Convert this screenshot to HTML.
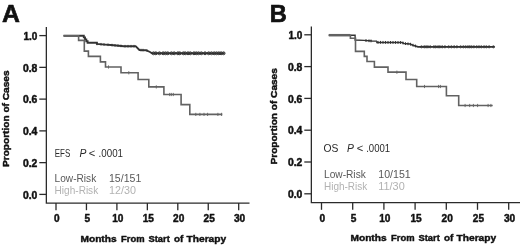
<!DOCTYPE html>
<html><head><meta charset="utf-8"><title>Figure</title>
<style>
html,body{margin:0;padding:0;background:#fff;}
svg{display:block}
text{font-family:"Liberation Sans",sans-serif;}
.b{font-weight:bold;fill:#111;stroke:#111;stroke-width:0.45px;stroke-linejoin:round}
</style></head><body>
<svg width="520" height="245" viewBox="0 0 520 245">
<rect width="520" height="245" fill="#fff"/>
<path d="M46.35 26.9V203.1H249.5" fill="none" stroke="#2b2b2b" stroke-width="1.3"/>
<path d="M39.3 194.40H46.35" stroke="#2b2b2b" stroke-width="1.3"/>
<text x="37.3" y="198.60" text-anchor="end" class="b" font-size="10" textLength="14.4" lengthAdjust="spacingAndGlyphs">0.0</text>
<path d="M39.3 162.64H46.35" stroke="#2b2b2b" stroke-width="1.3"/>
<text x="37.3" y="166.84" text-anchor="end" class="b" font-size="10" textLength="14.4" lengthAdjust="spacingAndGlyphs">0.2</text>
<path d="M39.3 130.88H46.35" stroke="#2b2b2b" stroke-width="1.3"/>
<text x="37.3" y="135.08" text-anchor="end" class="b" font-size="10" textLength="14.4" lengthAdjust="spacingAndGlyphs">0.4</text>
<path d="M39.3 99.12H46.35" stroke="#2b2b2b" stroke-width="1.3"/>
<text x="37.3" y="103.32" text-anchor="end" class="b" font-size="10" textLength="14.4" lengthAdjust="spacingAndGlyphs">0.6</text>
<path d="M39.3 67.36H46.35" stroke="#2b2b2b" stroke-width="1.3"/>
<text x="37.3" y="71.56" text-anchor="end" class="b" font-size="10" textLength="14.4" lengthAdjust="spacingAndGlyphs">0.8</text>
<path d="M39.3 35.60H46.35" stroke="#2b2b2b" stroke-width="1.3"/>
<text x="37.3" y="39.80" text-anchor="end" class="b" font-size="10">1.0</text>
<path d="M56.00 203.1V210.2" stroke="#2b2b2b" stroke-width="1.3"/>
<text x="56.90" y="222.4" text-anchor="middle" class="b" font-size="10.1">0</text>
<path d="M86.45 203.1V210.2" stroke="#2b2b2b" stroke-width="1.3"/>
<text x="87.35" y="222.4" text-anchor="middle" class="b" font-size="10.1">5</text>
<path d="M116.90 203.1V210.2" stroke="#2b2b2b" stroke-width="1.3"/>
<text x="117.80" y="222.4" text-anchor="middle" class="b" font-size="10.1">10</text>
<path d="M147.35 203.1V210.2" stroke="#2b2b2b" stroke-width="1.3"/>
<text x="148.25" y="222.4" text-anchor="middle" class="b" font-size="10.1">15</text>
<path d="M177.80 203.1V210.2" stroke="#2b2b2b" stroke-width="1.3"/>
<text x="178.70" y="222.4" text-anchor="middle" class="b" font-size="10.1">20</text>
<path d="M208.25 203.1V210.2" stroke="#2b2b2b" stroke-width="1.3"/>
<text x="209.15" y="222.4" text-anchor="middle" class="b" font-size="10.1">25</text>
<path d="M238.70 203.1V210.2" stroke="#2b2b2b" stroke-width="1.3"/>
<text x="239.60" y="222.4" text-anchor="middle" class="b" font-size="10.1">30</text>
<text x="80.50" y="242.4" class="b" font-size="9.9" textLength="36.1" lengthAdjust="spacingAndGlyphs">Months</text>
<text x="121.10" y="242.4" class="b" font-size="9.9" textLength="23.5" lengthAdjust="spacingAndGlyphs">From</text>
<text x="148.50" y="242.4" class="b" font-size="9.9" textLength="21.3" lengthAdjust="spacingAndGlyphs">Start</text>
<text x="173.90" y="242.4" class="b" font-size="9.9" textLength="9.3" lengthAdjust="spacingAndGlyphs">of</text>
<text x="186.50" y="242.4" class="b" font-size="9.9" textLength="39.7" lengthAdjust="spacingAndGlyphs">Therapy</text>
<text transform="translate(9.1 167.0) rotate(-90)" class="b" font-size="9.4" textLength="96.5" lengthAdjust="spacingAndGlyphs">Proportion of Cases</text>
<text x="1.9" y="22.3" class="b" font-size="24.8" style="stroke-width:0.7px">A</text>
<path d="M311.35 26.5V202.7H520" fill="none" stroke="#2b2b2b" stroke-width="1.3"/>
<path d="M304.3 193.80H311.35" stroke="#2b2b2b" stroke-width="1.3"/>
<text x="302.3" y="198.00" text-anchor="end" class="b" font-size="10" textLength="14.4" lengthAdjust="spacingAndGlyphs">0.0</text>
<path d="M304.3 162.00H311.35" stroke="#2b2b2b" stroke-width="1.3"/>
<text x="302.3" y="166.20" text-anchor="end" class="b" font-size="10" textLength="14.4" lengthAdjust="spacingAndGlyphs">0.2</text>
<path d="M304.3 130.20H311.35" stroke="#2b2b2b" stroke-width="1.3"/>
<text x="302.3" y="134.40" text-anchor="end" class="b" font-size="10" textLength="14.4" lengthAdjust="spacingAndGlyphs">0.4</text>
<path d="M304.3 98.40H311.35" stroke="#2b2b2b" stroke-width="1.3"/>
<text x="302.3" y="102.60" text-anchor="end" class="b" font-size="10" textLength="14.4" lengthAdjust="spacingAndGlyphs">0.6</text>
<path d="M304.3 66.60H311.35" stroke="#2b2b2b" stroke-width="1.3"/>
<text x="302.3" y="70.80" text-anchor="end" class="b" font-size="10" textLength="14.4" lengthAdjust="spacingAndGlyphs">0.8</text>
<path d="M304.3 34.80H311.35" stroke="#2b2b2b" stroke-width="1.3"/>
<text x="302.3" y="39.00" text-anchor="end" class="b" font-size="10">1.0</text>
<path d="M321.50 202.7V209.79999999999998" stroke="#2b2b2b" stroke-width="1.3"/>
<text x="322.40" y="222.0" text-anchor="middle" class="b" font-size="10.1">0</text>
<path d="M352.70 202.7V209.79999999999998" stroke="#2b2b2b" stroke-width="1.3"/>
<text x="353.60" y="222.0" text-anchor="middle" class="b" font-size="10.1">5</text>
<path d="M383.90 202.7V209.79999999999998" stroke="#2b2b2b" stroke-width="1.3"/>
<text x="384.80" y="222.0" text-anchor="middle" class="b" font-size="10.1">10</text>
<path d="M415.10 202.7V209.79999999999998" stroke="#2b2b2b" stroke-width="1.3"/>
<text x="416.00" y="222.0" text-anchor="middle" class="b" font-size="10.1">15</text>
<path d="M446.30 202.7V209.79999999999998" stroke="#2b2b2b" stroke-width="1.3"/>
<text x="447.20" y="222.0" text-anchor="middle" class="b" font-size="10.1">20</text>
<path d="M477.50 202.7V209.79999999999998" stroke="#2b2b2b" stroke-width="1.3"/>
<text x="478.40" y="222.0" text-anchor="middle" class="b" font-size="10.1">25</text>
<path d="M508.70 202.7V209.79999999999998" stroke="#2b2b2b" stroke-width="1.3"/>
<text x="509.60" y="222.0" text-anchor="middle" class="b" font-size="10.1">30</text>
<text x="350.50" y="241.4" class="b" font-size="9.9" textLength="36.1" lengthAdjust="spacingAndGlyphs">Months</text>
<text x="391.10" y="241.4" class="b" font-size="9.9" textLength="23.5" lengthAdjust="spacingAndGlyphs">From</text>
<text x="418.50" y="241.4" class="b" font-size="9.9" textLength="21.3" lengthAdjust="spacingAndGlyphs">Start</text>
<text x="443.90" y="241.4" class="b" font-size="9.9" textLength="9.3" lengthAdjust="spacingAndGlyphs">of</text>
<text x="456.50" y="241.4" class="b" font-size="9.9" textLength="39.7" lengthAdjust="spacingAndGlyphs">Therapy</text>
<text transform="translate(277.4 164.5) rotate(-90)" class="b" font-size="9.4" textLength="96.3" lengthAdjust="spacingAndGlyphs">Proportion of Cases</text>
<text x="269.7" y="21.5" class="b" font-size="23.6" style="stroke-width:0.7px">B</text>
<path d="M108.50 65.40V68.60M128.80 71.20V74.40M156.30 85.30V88.50M169.70 92.90V96.10M171.30 92.90V96.10M173.30 92.90V96.10M195.80 112.80V116.00M199.90 112.80V116.00M204.00 112.80V116.00M207.60 112.80V116.00M217.90 112.80V116.00M221.60 112.80V116.00" stroke="#626262" stroke-width="0.9" fill="none"/>
<polyline points="63.50,35.80 83.80,35.80 83.80,37.40 85.00,37.40 85.00,39.40 86.30,39.40 86.30,41.20 87.60,41.20 87.60,42.80 96.90,42.80 96.90,43.90 105.00,44.60 111.00,45.00 123.80,46.20 135.60,46.20 139.40,50.00 146.00,50.20 150.00,52.00 152.00,53.30 224.60,53.30" fill="none" stroke="#333" stroke-width="1.9"/>
<path d="M152.05 53.30a1.45 1.45 0 1 0 2.9 0a1.45 1.45 0 1 0 -2.9 0M154.35 53.30a1.45 1.45 0 1 0 2.9 0a1.45 1.45 0 1 0 -2.9 0M158.03 53.30a1.45 1.45 0 1 0 2.9 0a1.45 1.45 0 1 0 -2.9 0M161.71 53.30a1.45 1.45 0 1 0 2.9 0a1.45 1.45 0 1 0 -2.9 0M164.01 53.30a1.45 1.45 0 1 0 2.9 0a1.45 1.45 0 1 0 -2.9 0M166.31 53.30a1.45 1.45 0 1 0 2.9 0a1.45 1.45 0 1 0 -2.9 0M169.99 53.30a1.45 1.45 0 1 0 2.9 0a1.45 1.45 0 1 0 -2.9 0M172.75 53.30a1.45 1.45 0 1 0 2.9 0a1.45 1.45 0 1 0 -2.9 0M176.43 53.30a1.45 1.45 0 1 0 2.9 0a1.45 1.45 0 1 0 -2.9 0M178.27 53.30a1.45 1.45 0 1 0 2.9 0a1.45 1.45 0 1 0 -2.9 0M181.95 53.30a1.45 1.45 0 1 0 2.9 0a1.45 1.45 0 1 0 -2.9 0M183.79 53.30a1.45 1.45 0 1 0 2.9 0a1.45 1.45 0 1 0 -2.9 0M186.55 53.30a1.45 1.45 0 1 0 2.9 0a1.45 1.45 0 1 0 -2.9 0M188.85 53.30a1.45 1.45 0 1 0 2.9 0a1.45 1.45 0 1 0 -2.9 0M192.53 53.30a1.45 1.45 0 1 0 2.9 0a1.45 1.45 0 1 0 -2.9 0M194.83 53.30a1.45 1.45 0 1 0 2.9 0a1.45 1.45 0 1 0 -2.9 0M197.13 53.30a1.45 1.45 0 1 0 2.9 0a1.45 1.45 0 1 0 -2.9 0M199.89 53.30a1.45 1.45 0 1 0 2.9 0a1.45 1.45 0 1 0 -2.9 0M203.57 53.30a1.45 1.45 0 1 0 2.9 0a1.45 1.45 0 1 0 -2.9 0M207.25 53.30a1.45 1.45 0 1 0 2.9 0a1.45 1.45 0 1 0 -2.9 0M210.01 53.30a1.45 1.45 0 1 0 2.9 0a1.45 1.45 0 1 0 -2.9 0M212.77 53.30a1.45 1.45 0 1 0 2.9 0a1.45 1.45 0 1 0 -2.9 0M215.07 53.30a1.45 1.45 0 1 0 2.9 0a1.45 1.45 0 1 0 -2.9 0M217.37 53.30a1.45 1.45 0 1 0 2.9 0a1.45 1.45 0 1 0 -2.9 0M219.67 53.30a1.45 1.45 0 1 0 2.9 0a1.45 1.45 0 1 0 -2.9 0M222.15 53.30a1.45 1.45 0 1 0 2.9 0a1.45 1.45 0 1 0 -2.9 0" stroke="#333" stroke-width="1.0" fill="none"/>
<path d="M97.00 42.61V45.21M101.00 42.95V45.55M104.00 43.21V45.81M108.00 43.50V46.10M112.00 43.79V46.39M115.00 44.08V46.67M118.00 44.36V46.96M121.00 44.64V47.24M125.00 44.90V47.50M128.00 44.90V47.50M131.00 44.90V47.50M134.00 44.90V47.50M141.00 48.75V51.35M143.00 48.81V51.41M147.00 49.35V51.95" stroke="#333" stroke-width="0.9" fill="none"/>
<polyline points="63.50,35.80 78.60,35.80 78.60,40.40 84.30,40.40 84.30,51.10 88.40,51.10 88.40,56.40 100.40,56.40 100.40,61.90 105.50,61.90 105.50,67.00 121.00,67.00 121.00,72.80 138.10,72.80 138.10,79.50 148.80,79.50 148.80,86.90 163.90,86.90 163.90,94.50 181.10,94.50 181.10,104.60 189.80,104.60 189.80,114.40 222.30,114.40" fill="none" stroke="#626262" stroke-width="1.6"/>
<text x="54.8" y="156.8" font-size="10.3" fill="#2a2a2a" textLength="15.5" lengthAdjust="spacingAndGlyphs">EFS</text>
<text x="79.4" y="156.8" font-size="10.3" fill="#2a2a2a" textLength="6.9" lengthAdjust="spacingAndGlyphs" font-style="italic">P</text>
<text x="88.7" y="156.8" font-size="10.3" fill="#2a2a2a" textLength="6.5" lengthAdjust="spacingAndGlyphs">&lt;</text>
<text x="98.6" y="156.8" font-size="10.3" fill="#2a2a2a" textLength="24.4" lengthAdjust="spacingAndGlyphs">.0001</text>
<text x="54.6" y="181.7" font-size="10.3" fill="#585858" textLength="41.6" lengthAdjust="spacingAndGlyphs">Low-Risk</text>
<text x="109.0" y="181.7" font-size="10.3" fill="#585858" textLength="32.3" lengthAdjust="spacingAndGlyphs">15/151</text>
<text x="54.6" y="194.1" font-size="10.3" fill="#b2b2b2" textLength="43.6" lengthAdjust="spacingAndGlyphs">High-Risk</text>
<text x="109.0" y="194.1" font-size="10.3" fill="#b2b2b2" textLength="26.9" lengthAdjust="spacingAndGlyphs">12/30</text>
<path d="M396.90 70.60V73.80M424.50 84.90V88.10M438.60 84.90V88.10M440.40 84.90V88.10M465.10 103.90V107.10M469.70 103.90V107.10M473.40 103.90V107.10M477.60 103.90V107.10M488.10 103.90V107.10M490.90 103.90V107.10" stroke="#626262" stroke-width="0.9" fill="none"/>
<polyline points="328.80,35.20 355.10,35.20 355.10,40.00 364.00,40.40 372.00,41.00 377.00,41.20" fill="none" stroke="#333" stroke-width="1.35"/>
<polyline points="377.00,41.20 377.00,42.30 402.00,42.50 404.00,43.50 410.00,44.00 413.00,45.20 418.00,46.80 494.60,46.80" fill="none" stroke="#333" stroke-width="1.7"/>
<path d="M420.40 46.80a1.1 1.1 0 1 0 2.2 0a1.1 1.1 0 1 0 -2.2 0M423.16 46.80a1.1 1.1 0 1 0 2.2 0a1.1 1.1 0 1 0 -2.2 0M425.00 46.80a1.1 1.1 0 1 0 2.2 0a1.1 1.1 0 1 0 -2.2 0M426.84 46.80a1.1 1.1 0 1 0 2.2 0a1.1 1.1 0 1 0 -2.2 0M429.14 46.80a1.1 1.1 0 1 0 2.2 0a1.1 1.1 0 1 0 -2.2 0M432.82 46.80a1.1 1.1 0 1 0 2.2 0a1.1 1.1 0 1 0 -2.2 0M434.66 46.80a1.1 1.1 0 1 0 2.2 0a1.1 1.1 0 1 0 -2.2 0M436.96 46.80a1.1 1.1 0 1 0 2.2 0a1.1 1.1 0 1 0 -2.2 0M438.80 46.80a1.1 1.1 0 1 0 2.2 0a1.1 1.1 0 1 0 -2.2 0M441.10 46.80a1.1 1.1 0 1 0 2.2 0a1.1 1.1 0 1 0 -2.2 0M443.86 46.80a1.1 1.1 0 1 0 2.2 0a1.1 1.1 0 1 0 -2.2 0M447.54 46.80a1.1 1.1 0 1 0 2.2 0a1.1 1.1 0 1 0 -2.2 0M450.30 46.80a1.1 1.1 0 1 0 2.2 0a1.1 1.1 0 1 0 -2.2 0M453.06 46.80a1.1 1.1 0 1 0 2.2 0a1.1 1.1 0 1 0 -2.2 0M455.82 46.80a1.1 1.1 0 1 0 2.2 0a1.1 1.1 0 1 0 -2.2 0M459.50 46.80a1.1 1.1 0 1 0 2.2 0a1.1 1.1 0 1 0 -2.2 0M462.26 46.80a1.1 1.1 0 1 0 2.2 0a1.1 1.1 0 1 0 -2.2 0M464.56 46.80a1.1 1.1 0 1 0 2.2 0a1.1 1.1 0 1 0 -2.2 0M466.86 46.80a1.1 1.1 0 1 0 2.2 0a1.1 1.1 0 1 0 -2.2 0M468.70 46.80a1.1 1.1 0 1 0 2.2 0a1.1 1.1 0 1 0 -2.2 0M470.54 46.80a1.1 1.1 0 1 0 2.2 0a1.1 1.1 0 1 0 -2.2 0M472.84 46.80a1.1 1.1 0 1 0 2.2 0a1.1 1.1 0 1 0 -2.2 0M475.60 46.80a1.1 1.1 0 1 0 2.2 0a1.1 1.1 0 1 0 -2.2 0M477.90 46.80a1.1 1.1 0 1 0 2.2 0a1.1 1.1 0 1 0 -2.2 0M480.20 46.80a1.1 1.1 0 1 0 2.2 0a1.1 1.1 0 1 0 -2.2 0M482.96 46.80a1.1 1.1 0 1 0 2.2 0a1.1 1.1 0 1 0 -2.2 0M485.26 46.80a1.1 1.1 0 1 0 2.2 0a1.1 1.1 0 1 0 -2.2 0M488.02 46.80a1.1 1.1 0 1 0 2.2 0a1.1 1.1 0 1 0 -2.2 0M492.30 46.80a1.1 1.1 0 1 0 2.2 0a1.1 1.1 0 1 0 -2.2 0" stroke="#333" stroke-width="0.8" fill="none"/>
<path d="M366.00 39.15V41.95M369.00 39.38V42.17M371.00 39.52V42.32M378.00 40.91V43.71M380.50 40.93V43.73M383.00 40.95V43.75M385.50 40.97V43.77M388.00 40.99V43.79M390.50 41.01V43.81M393.00 41.03V43.83M395.50 41.05V43.85M398.00 41.07V43.87M400.50 41.09V43.89M403.00 41.60V44.40M405.50 42.23V45.02M408.00 42.43V45.23M410.50 42.80V45.60M413.00 43.80V46.60M415.50 44.60V47.40" stroke="#333" stroke-width="1.0" fill="none"/>
<polyline points="328.80,35.20 350.40,35.20 350.40,38.30 355.50,38.30 355.50,51.40 364.30,51.40 364.30,56.40 367.00,56.40 367.00,61.50 374.40,61.50 374.40,67.10 388.00,67.10 388.00,72.10 406.00,72.10 406.00,79.50 416.70,79.50 416.70,86.50 446.40,86.50 446.40,95.70 458.70,95.70 458.70,105.50 492.70,105.50" fill="none" stroke="#626262" stroke-width="1.6"/>
<path d="M328.8 35.2H350" stroke="#626262" stroke-width="2.5"/>
<text x="323.5" y="152.3" font-size="10.3" fill="#2a2a2a" textLength="14.9" lengthAdjust="spacingAndGlyphs">OS</text>
<text x="346.9" y="152.3" font-size="10.3" fill="#2a2a2a" textLength="6.9" lengthAdjust="spacingAndGlyphs" font-style="italic">P</text>
<text x="356.7" y="152.3" font-size="10.3" fill="#2a2a2a" textLength="6.5" lengthAdjust="spacingAndGlyphs">&lt;</text>
<text x="366.2" y="152.3" font-size="10.3" fill="#2a2a2a" textLength="24.0" lengthAdjust="spacingAndGlyphs">.0001</text>
<text x="324.0" y="177.6" font-size="10.3" fill="#585858" textLength="41.8" lengthAdjust="spacingAndGlyphs">Low-Risk</text>
<text x="378.3" y="177.6" font-size="10.3" fill="#585858" textLength="32.4" lengthAdjust="spacingAndGlyphs">10/151</text>
<text x="324.0" y="189.7" font-size="10.3" fill="#b2b2b2" textLength="43.2" lengthAdjust="spacingAndGlyphs">High-Risk</text>
<text x="378.3" y="189.7" font-size="10.3" fill="#b2b2b2" textLength="26.4" lengthAdjust="spacingAndGlyphs">11/30</text>
</svg>
</body></html>
